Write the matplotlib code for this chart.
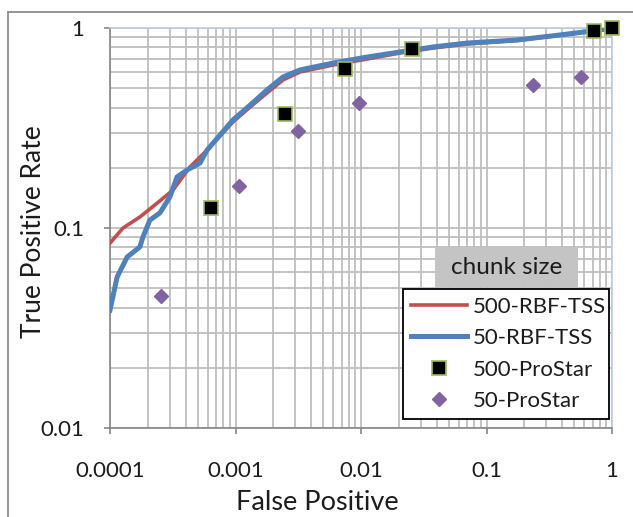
import matplotlib
matplotlib.use("Agg")
import matplotlib.pyplot as plt
from matplotlib.lines import Line2D
from matplotlib.patches import Rectangle

plt.rcParams['font.family'] = ['Lato', 'DejaVu Sans']

# ---- data ----
fpr_500_rbf = [1e-4, 1.27e-4, 1.73e-4, 2.37e-4, 3.18e-4, 4.34e-4, 5.93e-4, 9.55e-4,
               1.31e-3, 1.78e-3, 2.39e-3, 3.27e-3, 5.98e-3, 0.0112, 0.0205, 0.0375,
               0.070, 0.175, 0.385, 0.80, 1.0]
tpr_500_rbf = [0.084, 0.100, 0.1135, 0.133, 0.155, 0.202, 0.245, 0.339,
               0.403, 0.473, 0.550, 0.603, 0.653, 0.700, 0.750, 0.794,
               0.832, 0.866, 0.920, 0.975, 1.0]

fpr_50_rbf = [1e-4, 1.14e-4, 1.37e-4, 1.73e-4, 1.83e-4, 2.08e-4, 2.50e-4, 3.0e-4,
              3.42e-4, 4.11e-4, 5.21e-4, 5.93e-4, 9.55e-4, 1.31e-3, 1.78e-3,
              2.39e-3, 3.27e-3, 5.98e-3, 0.0112, 0.0205, 0.0375, 0.070, 0.175,
              0.385, 0.80, 1.0]
tpr_50_rbf = [0.0389, 0.0569, 0.0716, 0.0804, 0.0902, 0.1096, 0.119, 0.143,
              0.180, 0.195, 0.211, 0.245, 0.347, 0.412, 0.490,
              0.569, 0.617, 0.668, 0.716, 0.759, 0.804, 0.841, 0.871,
              0.923, 0.977, 1.0]

fpr_500_prostar = [6.4e-4, 0.00248, 0.00747, 0.0255, 0.72, 1.0]
tpr_500_prostar = [0.126, 0.372, 0.624, 0.785, 0.966, 1.0]

fpr_50_prostar = [2.55e-4, 0.00107, 0.00315, 0.0096, 0.234, 0.566]
tpr_50_prostar = [0.0457, 0.162, 0.305, 0.420, 0.519, 0.569]

x_ticks = [0.0001, 0.001, 0.01, 0.1, 1]
x_tick_labels = ["0.0001", "0.001", "0.01", "0.1", "1"]
y_ticks = [0.01, 0.1, 1]
y_tick_labels = ["0.01", "0.1", "1"]

series_names = ["500-RBF-TSS", "50-RBF-TSS", "500-ProStar", "50-ProStar"]
legend_title = "chunk size"

# ---- colours ----
RED = "#c0504d"
BLUE = "#4f81bd"
PURPLE = "#8064a2"
GREEN_EDGE = "#9bbb59"
TEXT = "#1c1c1c"
GRID = "#bebebe"

W, H = 633, 517
fig = plt.figure(figsize=(W / 100, H / 100), dpi=100)
ax = fig.add_axes([110 / W, 1 - 428 / H, (612 - 110) / W, (428 - 28) / H])

ax.set_xscale('log')
ax.set_yscale('log')
ax.set_xlim(1e-4, 1)
ax.set_ylim(0.01, 1)

ax.grid(True, which='both', color=GRID, linewidth=1.3)
ax.set_axisbelow(True)

ax.plot(fpr_500_rbf, tpr_500_rbf, color=RED, lw=2.6, zorder=3)
ax.plot(fpr_50_rbf, tpr_50_rbf, color=BLUE, lw=3.6, zorder=4)
ax.plot(fpr_500_prostar, tpr_500_prostar, ls='none', marker='s', ms=9.5,
        mfc='black', mec=GREEN_EDGE, mew=1.2, zorder=5, clip_on=False)
ax.plot(fpr_50_prostar, tpr_50_prostar, ls='none', marker='D', ms=7,
        mfc=PURPLE, mec=PURPLE, zorder=5, clip_on=False)

ax.set_xticks(x_ticks)
ax.set_xticklabels(x_tick_labels)
ax.set_yticks(y_ticks)
ax.set_yticklabels(y_tick_labels)
ax.tick_params(which='minor', length=0)
ax.tick_params(which='major', length=4.5, width=1.2, color='#868686',
               labelsize=16, labelcolor=TEXT)
ax.tick_params(axis='x', pad=19)
ax.tick_params(axis='y', pad=14)

for s in ['left', 'bottom']:
    ax.spines[s].set_color('#868686')
    ax.spines[s].set_linewidth(1.2)
for s in ['top', 'right']:
    ax.spines[s].set_color('#b9cde5')
    ax.spines[s].set_linewidth(1.2)

ax.set_xlabel("False Positive", fontsize=19.5, color=TEXT)
ax.set_ylabel("True Positive Rate", fontsize=19, color=TEXT)
ax.xaxis.set_label_coords(0.412, -0.155)
ax.yaxis.set_label_coords(-0.128, 0.49)

handles = [
    Line2D([], [], color=RED, lw=2.6),
    Line2D([], [], color=BLUE, lw=3.6),
    Line2D([], [], ls='none', marker='s', ms=9.5, mfc='black', mec=GREEN_EDGE, mew=1.2),
    Line2D([], [], ls='none', marker='D', ms=7, mfc=PURPLE, mec=PURPLE),
]
leg = ax.legend(handles, series_names, loc='lower left',
                bbox_to_anchor=(0.584, 0.0225, 0.41, 0.33), mode='expand',
                fontsize=16, frameon=True, fancybox=False, framealpha=1,
                edgecolor='black', handlelength=2.5, handletextpad=0.3,
                borderpad=0.35, labelspacing=0.52, borderaxespad=0)
leg.get_frame().set_linewidth(1.3)
for t in leg.get_texts():
    t.set_color(TEXT)
leg.set_zorder(10)

ax.add_patch(Rectangle((0.647, 0.3525), 0.285, 0.1, transform=ax.transAxes,
                       fc='#c4c4c4', ec='none', zorder=11, clip_on=False))
ax.text(0.7895, 0.4025, legend_title, transform=ax.transAxes, ha='center', va='center',
        fontsize=17.5, color=TEXT, zorder=12)

# outer frame
fig.add_artist(Line2D([8 / W, 8 / W], [0, 1 - 12 / H], transform=fig.transFigure,
                      color='#8c8c8c', lw=1.3))
fig.add_artist(Line2D([8 / W, 1], [1 - 12 / H, 1 - 12 / H], transform=fig.transFigure,
                      color='#8c8c8c', lw=1.3))

fig.savefig("out.png", dpi=100, facecolor='white')
